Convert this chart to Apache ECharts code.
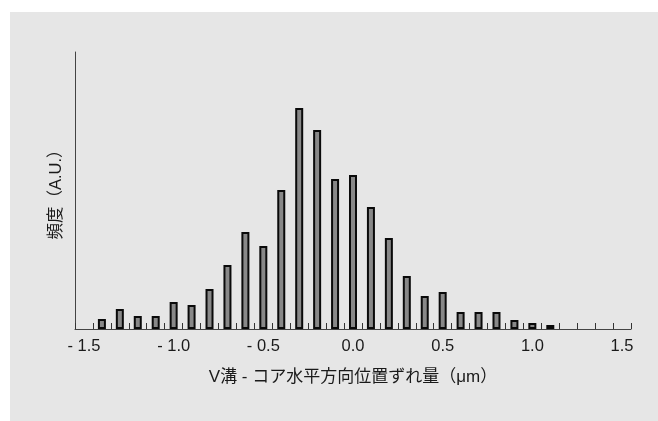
<!DOCTYPE html>
<html>
<head>
<meta charset="utf-8">
<script src="https://cdn.jsdelivr.net/npm/echarts@6/dist/echarts.min.js"></script>
<style>
html,body{margin:0;padding:0;background:#fff;}
#c{width:658px;height:421px;}
</style>
</head>
<body>
<div id="c"></div>
<script>
// category bins (μm), 0.1 step
const categories = ["-1.5","-1.4","-1.3","-1.2","-1.1","-1.0","-0.9","-0.8","-0.7","-0.6","-0.5","-0.4","-0.3","-0.2","-0.1","0.0","0.1","0.2","0.3","0.4","0.5","0.6","0.7","0.8","0.9","1.0","1.1","1.2","1.3","1.4","1.5"];
// frequency (A.U.)
const frequency = [null,10,20,13,13,27,24,40,64,97,83,139,221,199,150,154,122,91,53,33,37,17,17,17,9,6,4,null,null,null,null];
const tickLabels = {"-1.5":"- 1.5","-1.0":"- 1.0","-0.5":"- 0.5","0.0":"0.0","0.5":"0.5","1.0":"1.0","1.5":"1.5"};
const xName = "V溝 - コア水平方向位置ずれ量（μm）";
const yName = "頻度（A.U.）";

const nameFont = '"Liberation Sans", "Noto Sans CJK JP", sans-serif';
const chart = echarts.init(document.getElementById('c'), null, {renderer:'canvas'});
chart.setOption({
  backgroundColor: '#ffffff',
  animation: false,
  graphic: [{
    type: 'rect', z: -10, silent: true,
    shape: {x: 10, y: 12, width: 648, height: 409},
    style: {fill: '#e6e6e6'}
  }],
  grid: {left: 75, right: 27, top: 52, bottom: 92, containLabel: false},
  xAxis: {
    type: 'category',
    data: categories,
    boundaryGap: true,
    name: xName,
    nameLocation: 'middle',
    nameGap: 40,
    nameTextStyle: {fontFamily: nameFont, fontSize: 17, color: '#1a1a1a'},
    axisLine: {show: true, lineStyle: {color: '#444', width: 1}},
    axisTick: {show: true, inside: true, length: 6, interval: 0, alignWithLabel: false, lineStyle: {color: '#333', width: 1}},
    axisLabel: {
      interval: 4, margin: 9,
      fontFamily: '"Liberation Sans", Arial, sans-serif', fontSize: 16.5, color: '#1a1a1a',
      formatter: v => tickLabels[v] || ''
    },
    splitLine: {show: false}
  },
  yAxis: {
    type: 'value', min: 0, max: 277,
    name: yName,
    nameLocation: 'middle',
    nameGap: 10,
    nameRotate: 90,
    nameTextStyle: {fontFamily: nameFont, fontSize: 16.5, color: '#1a1a1a'},
    axisLine: {show: true, lineStyle: {color: '#444', width: 1}},
    axisTick: {show: false},
    axisLabel: {show: false},
    splitLine: {show: false}
  },
  series: [{
    type: 'bar',
    data: frequency,
    barWidth: 8,
    itemStyle: {color: '#888888', borderColor: '#0a0a0a', borderWidth: 2}
  }]
});
</script>
</body>
</html>
